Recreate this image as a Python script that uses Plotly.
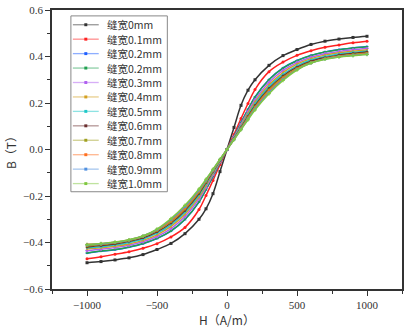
import plotly.graph_objects as go

H = [-1000, -900, -800, -700, -600, -500, -400, -300, -200, -150, -100, -50, 0,
     50, 100, 150, 200, 300, 400, 500, 600, 700, 800, 900, 1000]

names = ["缝宽0mm", "缝宽0.1mm", "缝宽0.2mm", "缝宽0.2mm", "缝宽0.3mm", "缝宽0.4mm",
         "缝宽0.5mm", "缝宽0.6mm", "缝宽0.7mm", "缝宽0.8mm", "缝宽0.9mm", "缝宽1.0mm"]

B_0mm = [-0.487, -0.482, -0.475, -0.466, -0.452, -0.430, -0.404, -0.362, -0.300, -0.255, -0.190, -0.095, 0.0,
         0.095, 0.190, 0.255, 0.300, 0.362, 0.404, 0.430, 0.452, 0.466, 0.475, 0.482, 0.487]
B_01mm = [-0.470, -0.461, -0.451, -0.440, -0.425, -0.405, -0.376, -0.335, -0.258, -0.198, -0.133, -0.065, 0.0,
          0.065, 0.133, 0.198, 0.258, 0.335, 0.376, 0.405, 0.425, 0.440, 0.450, 0.459, 0.466]
B_02mm_a = [-0.446, -0.438, -0.431, -0.420, -0.405, -0.383, -0.351, -0.301, -0.226, -0.173, -0.116, -0.056, 0.0,
            0.056, 0.116, 0.173, 0.226, 0.301, 0.351, 0.383, 0.405, 0.420, 0.430, 0.437, 0.443]
B_02mm_b = [-0.445, -0.437, -0.430, -0.419, -0.404, -0.382, -0.350, -0.300, -0.225, -0.172, -0.115, -0.055, 0.0,
            0.055, 0.115, 0.172, 0.225, 0.300, 0.350, 0.382, 0.404, 0.419, 0.429, 0.436, 0.442]
B_03mm = [-0.435, -0.429, -0.422, -0.412, -0.397, -0.374, -0.340, -0.288, -0.213, -0.163, -0.108, -0.052, 0.0,
          0.052, 0.108, 0.163, 0.213, 0.288, 0.340, 0.374, 0.397, 0.412, 0.422, 0.429, 0.434]
B_04mm = [-0.428, -0.423, -0.416, -0.406, -0.391, -0.367, -0.331, -0.278, -0.204, -0.155, -0.102, -0.050, 0.0,
          0.050, 0.102, 0.155, 0.204, 0.278, 0.331, 0.367, 0.391, 0.406, 0.416, 0.423, 0.428]
B_05mm = [-0.423, -0.418, -0.411, -0.400, -0.385, -0.360, -0.323, -0.270, -0.196, -0.148, -0.098, -0.048, 0.0,
          0.048, 0.098, 0.148, 0.196, 0.270, 0.323, 0.360, 0.385, 0.400, 0.411, 0.418, 0.423]
B_06mm = [-0.419, -0.413, -0.406, -0.395, -0.380, -0.354, -0.316, -0.262, -0.189, -0.142, -0.094, -0.046, 0.0,
          0.046, 0.094, 0.142, 0.189, 0.262, 0.316, 0.354, 0.380, 0.395, 0.406, 0.413, 0.419]
B_07mm = [-0.415, -0.409, -0.402, -0.391, -0.375, -0.349, -0.310, -0.256, -0.183, -0.138, -0.091, -0.045, 0.0,
          0.045, 0.091, 0.138, 0.183, 0.256, 0.310, 0.349, 0.375, 0.391, 0.402, 0.409, 0.415]
B_08mm = [-0.408, -0.405, -0.399, -0.389, -0.372, -0.346, -0.305, -0.250, -0.178, -0.134, -0.089, -0.044, 0.0,
          0.044, 0.089, 0.134, 0.178, 0.250, 0.305, 0.346, 0.372, 0.390, 0.400, 0.407, 0.412]
B_09mm = [-0.410, -0.405, -0.399, -0.389, -0.372, -0.344, -0.301, -0.245, -0.174, -0.131, -0.087, -0.043, 0.0,
          0.043, 0.087, 0.131, 0.174, 0.245, 0.301, 0.344, 0.372, 0.389, 0.399, 0.405, 0.410]
B_10mm = [-0.409, -0.404, -0.398, -0.388, -0.372, -0.342, -0.297, -0.240, -0.170, -0.128, -0.085, -0.042, 0.0,
          0.042, 0.085, 0.128, 0.170, 0.240, 0.297, 0.342, 0.372, 0.388, 0.398, 0.404, 0.409]

series = [B_0mm, B_01mm, B_02mm_a, B_02mm_b, B_03mm, B_04mm,
          B_05mm, B_06mm, B_07mm, B_08mm, B_09mm, B_10mm]

colors = ["#333333", "#FF2020", "#2060FF", "#20A050", "#B060F0", "#D4A020",
          "#20C8C8", "#6B3030", "#A0A020", "#FF7020", "#5090E0", "#80C840"]
symbols = ["square", "circle", "triangle-up", "triangle-down", "diamond", "triangle-left",
           "triangle-right", "hexagon", "star", "pentagon", "circle", "cross"]

fig = go.Figure()
for name, ys, c, s in zip(names, series, colors, symbols):
    fig.add_trace(go.Scatter(
        x=H, y=ys, name=name, mode="lines+markers", showlegend=False,
        line=dict(color=c, width=1.5, shape="spline"),
        marker=dict(color=c, size=3, symbol=s),
    ))

# compact legend box (drawn with shapes + annotations, Origin style)
W_PLOT, H_PLOT, L, T = 352.0, 284.0, 52.0, 5.0
def px_x(x):
    return (x - L) / W_PLOT
def px_y(y):
    return (T + H_PLOT - y) / H_PLOT

shapes = [dict(type="rect", xref="paper", yref="paper",
               x0=px_x(71), x1=px_x(168), y0=px_y(190), y1=px_y(11),
               line=dict(color="#888888", width=1), fillcolor="white", layer="above")]
annotations = []
for i, (name, c) in enumerate(zip(names, colors)):
    yc = 20 + 14.7 * i
    shapes.append(dict(type="line", xref="paper", yref="paper",
                       x0=px_x(73), x1=px_x(99), y0=px_y(yc), y1=px_y(yc),
                       line=dict(color=c, width=1.3), opacity=0.5, layer="above"))
    shapes.append(dict(type="rect", xref="paper", yref="paper",
                       x0=px_x(84.5), x1=px_x(87.5), y0=px_y(yc + 1.5), y1=px_y(yc - 1.5),
                       line=dict(color=c, width=0), fillcolor=c, layer="above"))
    annotations.append(dict(xref="paper", yref="paper", x=px_x(105), y=px_y(yc),
                            xanchor="left", yanchor="middle", showarrow=False,
                            text=name, font=dict(family="Noto Sans CJK SC, serif", size=10.5, color="#333333")))

font_fam = "Liberation Serif, Noto Sans CJK SC, serif"
axis_common = dict(
    showline=True, linecolor="#333333", linewidth=1.5, mirror=True,
    ticks="outside", ticklen=5, tickwidth=1.2, tickcolor="#333333",
    showgrid=False, zeroline=False, ticklabeloverflow="allow",
    tickfont=dict(family=font_fam, size=11, color="#333333"),
)

fig.update_layout(
    width=408, height=334,
    margin=dict(l=52, r=4, t=5, b=45),
    paper_bgcolor="white", plot_bgcolor="white",
    showlegend=False,
    shapes=shapes, annotations=annotations,
    xaxis=dict(
        range=[-1250, 1250], tickvals=[-1000, -500, 0, 500, 1000],
        minor=dict(tickvals=[-1250, -750, -250, 250, 750, 1250], ticks="outside", ticklen=3, tickcolor="#333333"),
        title=dict(text="H（A/m）", font=dict(family="Noto Sans CJK SC, serif", size=12, color="#333333"), standoff=4),
        **axis_common,
    ),
    yaxis=dict(
        range=[-0.6, 0.6001], tickvals=[-0.6, -0.4, -0.2, 0.0, 0.2, 0.4, 0.6], tickformat=".1f",
        minor=dict(tickvals=[-0.5, -0.3, -0.1, 0.1, 0.3, 0.5], ticks="outside", ticklen=3, tickcolor="#333333"),
        title=dict(text="B（T）", font=dict(family="Noto Sans CJK SC, serif", size=12, color="#333333"), standoff=4),
        **axis_common,
    ),
)

fig.write_html("out.html", post_script="document.body.style.margin='0';",
               config={"displayModeBar": False})
